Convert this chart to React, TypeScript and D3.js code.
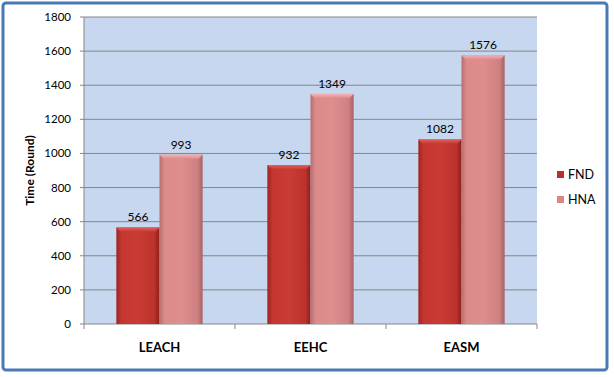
import React from "react";
import * as d3 from "d3";

const categories = ["LEACH", "EEHC", "EASM"];
const seriesNames = ["FND", "HNA"];
const fndValues = [566, 932, 1082];
const hnaValues = [993, 1349, 1576];
const yTicks = [0, 200, 400, 600, 800, 1000, 1200, 1400, 1600, 1800];

const W = 614, H = 377;
const plot = { left: 84, right: 537, top: 17, bottom: 324 };
const font = "Lato, 'Open Sans', sans-serif";

export default function App() {
  const x0 = d3.scaleBand().domain(categories).range([plot.left, plot.right]).paddingInner(0).paddingOuter(0);
  const bw = x0.bandwidth() / 3.5;
  const y = d3.scaleLinear().domain([0, 1800]).range([plot.bottom, plot.top]);
  const series = [
    { name: seriesNames[0], values: fndValues, grad: "gFND", top: "tFND", legend: "#b8302c" },
    { name: seriesNames[1], values: hnaValues, grad: "gHNA", top: "tHNA", legend: "#d98888" },
  ];
  return (
    <svg width={W} height={H} style={{ position: "absolute", left: 0, top: 0 }}>
      <defs>
        <linearGradient id="gFND" x1="0" x2="1" y1="0" y2="0">
          <stop offset="0" stopColor="#9e2420" />
          <stop offset="0.12" stopColor="#c4362f" />
          <stop offset="0.5" stopColor="#c93c35" />
          <stop offset="0.88" stopColor="#bd322c" />
          <stop offset="1" stopColor="#8c1e1a" />
        </linearGradient>
        <linearGradient id="gHNA" x1="0" x2="1" y1="0" y2="0">
          <stop offset="0" stopColor="#b86e6e" />
          <stop offset="0.12" stopColor="#dc8a8a" />
          <stop offset="0.5" stopColor="#df8e8e" />
          <stop offset="0.88" stopColor="#cf8080" />
          <stop offset="1" stopColor="#a86262" />
        </linearGradient>
        <linearGradient id="tFND" x1="0" x2="0" y1="0" y2="1">
          <stop offset="0" stopColor="#e0605a" />
          <stop offset="1" stopColor="#c93c35" />
        </linearGradient>
        <linearGradient id="tHNA" x1="0" x2="0" y1="0" y2="1">
          <stop offset="0" stopColor="#f2b4b4" />
          <stop offset="1" stopColor="#df8e8e" />
        </linearGradient>
      </defs>
      <rect x={0} y={0} width={W} height={H} fill="#ffffff" />
      <rect x={3} y={3} width={604} height={367} rx={3} fill="#ffffff" stroke="#4a7ab5" strokeWidth={3} />
      <rect x={plot.left} y={plot.top} width={plot.right - plot.left} height={plot.bottom - plot.top} fill="#c6d7ef" />
      {yTicks.map((t) => (
        <g key={t}>
          {t > 0 && (
            <line x1={plot.left} x2={plot.right} y1={y(t)} y2={y(t)} stroke="#868686" strokeWidth={1} />
          )}
          <line x1={plot.left - 4} x2={plot.left} y1={y(t)} y2={y(t)} stroke="#868686" />
          <text x={71} y={y(t)} dy="0.35em" textAnchor="end" fontFamily={font} fontSize={11.5} fill="#000">
            {t}
          </text>
        </g>
      ))}
      <line x1={plot.left} x2={plot.left} y1={plot.top} y2={plot.bottom} stroke="#868686" />
      <line x1={plot.left} x2={plot.right} y1={plot.bottom} y2={plot.bottom} stroke="#868686" />
      {[...categories.map((c) => x0(c) as number), plot.right].map((xv, i) => (
        <line key={i} x1={xv} x2={xv} y1={plot.bottom} y2={plot.bottom + 5} stroke="#868686" />
      ))}
      {categories.map((c, ci) => {
        const cx = (x0(c) as number) + x0.bandwidth() / 2;
        return (
          <g key={c}>
            {series.map((s, si) => {
              const bx = cx - bw + si * bw;
              const v = s.values[ci];
              const by = y(v);
              const bh = plot.bottom - by;
              return (
                <g key={s.name}>
                  <rect x={bx} y={by} width={bw} height={bh} fill={`url(#${s.grad})`} />
                  <path
                    d={`M${bx},${by} L${bx + bw},${by} L${bx + bw - 4},${by + 4} L${bx + 4},${by + 4} Z`}
                    fill={`url(#${s.top})`}
                  />
                  <text x={bx + bw / 2} y={by - 6} textAnchor="middle" fontFamily={font} fontSize={12} fill="#000">
                    {v}
                  </text>
                </g>
              );
            })}
            <text x={cx} y={352} textAnchor="middle" fontFamily={font} fontSize={13} fontWeight="bold" fill="#000">
              {c}
            </text>
          </g>
        );
      })}
      <text
        transform={`translate(34,${(plot.top + plot.bottom) / 2}) rotate(-90)`}
        textAnchor="middle"
        fontFamily={font}
        fontSize={12}
        fontWeight="bold"
        fill="#000"
      >
        Time (Round)
      </text>
      {series.map((s, i) => (
        <g key={s.name}>
          <rect x={557} y={171 + i * 25} width={7} height={7} fill={s.legend} />
          <text x={568} y={175 + i * 25} dy="0.35em" fontFamily={font} fontSize={12.5} fill="#000">
            {s.name}
          </text>
        </g>
      ))}
    </svg>
  );
}
